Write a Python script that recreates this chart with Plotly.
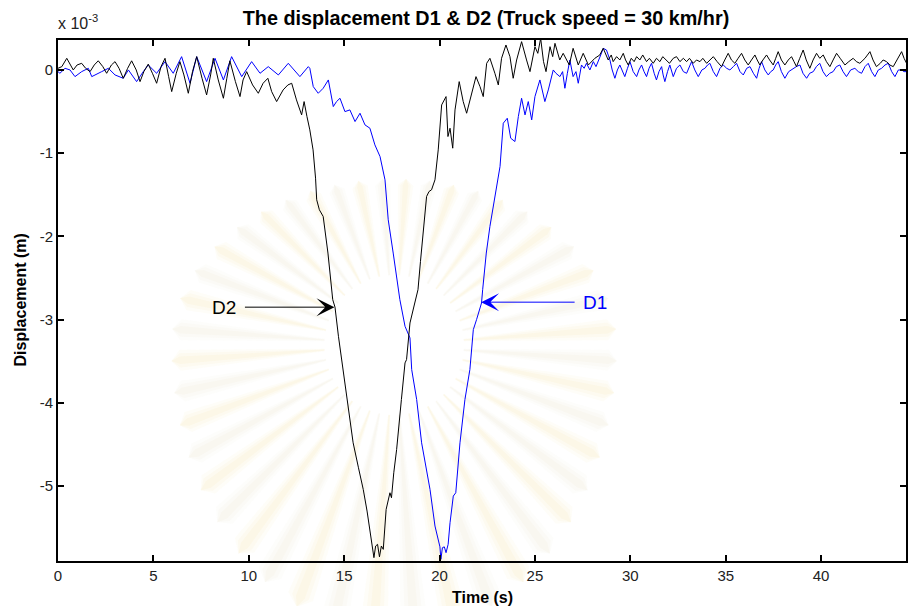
import math
import plotly.graph_objects as go

# Displacement records for the two gauges (values in units of 1e-3 m)
time_d1 = [
    0.0, 0.1, 0.37, 0.63, 0.89, 1.24, 1.59, 1.77, 2.29, 2.64, 2.99, 3.42, 3.69, 4.12,
    4.47, 4.73, 5.17, 5.61, 6.04, 6.48, 6.92, 7.27, 7.79, 8.23, 8.67, 9.1, 9.63, 10.15,
    10.59, 11.02, 11.55, 12.07, 12.68, 12.9, 13.12, 13.2, 13.38, 13.64, 13.9, 14.17,
    14.3, 14.43, 14.6, 14.78, 15.04, 15.3, 15.57, 15.83, 16.09, 16.35, 16.61, 16.88,
    17.14, 17.31, 17.57, 17.75, 17.92, 18.19, 18.35, 18.45, 18.54, 18.8, 19.06, 19.3,
    19.5, 19.76, 19.9, 20.02, 20.07, 20.15, 20.25, 20.34, 20.45, 20.55, 20.72, 20.85,
    21.07, 21.33, 21.59, 21.77, 21.94, 22.2, 22.26, 22.45, 22.64, 22.9, 22.99, 23.17,
    23.34, 23.55, 23.73, 23.95, 24.13, 24.3, 24.48, 24.65, 24.83, 25.0, 25.26, 25.44,
    25.52, 25.7, 25.85, 25.96, 26.1, 26.31, 26.45, 26.57, 26.7, 26.83, 27.0, 27.15,
    27.27, 27.44, 27.58, 27.7, 27.88, 28.06, 28.2, 28.32, 28.45, 28.58, 28.75, 28.93,
    29.05, 29.19, 29.32, 29.45, 29.58, 29.71, 29.85, 29.98, 30.15, 30.33, 30.45, 30.59,
    30.72, 30.85, 30.98, 31.11, 31.25, 31.37, 31.5, 31.64, 31.72, 31.81, 31.95, 32.07,
    32.25, 32.42, 32.6, 32.78, 32.95, 33.08, 33.21, 33.38, 33.56, 33.75, 33.91, 34.05,
    34.17, 34.35, 34.52, 34.7, 34.87, 35.05, 35.22, 35.4, 35.57, 35.75, 35.92, 36.1,
    36.27, 36.45, 36.62, 36.75, 36.88, 37.05, 37.23, 37.36, 37.49, 37.62, 37.75, 37.92,
    38.1, 38.3, 38.54, 38.7, 38.89, 39.05, 39.24, 39.4, 39.59, 39.75, 39.93, 40.1,
    40.28, 40.45, 40.63, 40.8, 40.98, 41.15, 41.33, 41.55, 41.77, 41.95, 42.12, 42.3,
    42.47, 42.65, 42.82, 43.0, 43.17, 43.35, 43.52, 43.7, 43.87, 44.05, 44.22, 44.35,
    44.48,
]
disp_d1 = [
    -0.02, -0.04, 0.02, 0.0, -0.08, -0.02, 0.02, -0.08, -0.02, 0.02, -0.06, -0.10, 0.0, -0.14,
    -0.02, 0.06, -0.04, 0.10, -0.04, 0.16, -0.16, 0.16, -0.14, 0.14, -0.12, 0.16, -0.08, 0.10,
    -0.04, 0.04, -0.06, 0.08, -0.08, -0.02, 0.04, 0.02, -0.20, -0.28, -0.22, -0.12,
    -0.30, -0.44, -0.38, -0.34, -0.50, -0.48, -0.62, -0.52, -0.66, -0.70, -0.90, -1.04,
    -1.32, -1.80, -2.20, -2.50, -2.76, -3.08, -3.18, -3.22, -3.60, -3.96, -4.48, -4.80,
    -5.04, -5.48, -5.60, -5.73, -5.88, -5.74, -5.73, -5.80, -5.70, -5.44, -5.12, -5.08,
    -4.48, -3.96, -3.60, -3.12, -3.00, -2.80, -2.64, -2.20, -1.88, -1.52, -1.40, -1.16,
    -0.64, -0.58, -0.82, -0.86, -0.56, -0.34, -0.54, -0.38, -0.60, -0.32, -0.12, -0.30,
    -0.38, -0.24, -0.10, 0.0, -0.04, -0.08, -0.02, -0.22, -0.04, 0.12, -0.08, -0.02,
    -0.16, 0.06, 0.02, 0.08, 0.0, 0.10, 0.04, 0.12, 0.18, 0.26, 0.24, 0.12,
    0.0, -0.10, 0.0, 0.06, -0.02, -0.08, 0.02, 0.10, -0.02, -0.08, 0.0, 0.06,
    -0.02, -0.08, 0.02, 0.08, -0.04, -0.12, -0.02, 0.04, -0.06, -0.14, -0.02, 0.06,
    -0.08, 0.02, 0.06, -0.02, -0.04, 0.04, 0.10, 0.0, -0.08, 0.0, 0.02, 0.06,
    0.08, -0.02, -0.08, 0.02, 0.06, 0.02, 0.0, 0.04, 0.08, -0.02, -0.06, 0.02,
    0.04, -0.04, -0.10, 0.02, 0.10, 0.0, -0.06, -0.02, 0.0, 0.06, 0.10, -0.02,
    -0.10, -0.02, 0.02, 0.04, 0.06, -0.04, -0.10, -0.04, -0.02, 0.04, 0.08, -0.02,
    -0.08, -0.04, -0.02, 0.04, 0.06, -0.02, -0.08, 0.0, 0.02, -0.02, -0.04, 0.04,
    0.08, -0.02, -0.08, 0.0, 0.02, 0.06, 0.08, -0.02, -0.08, 0.0, 0.0, -0.02,
    -0.02,
]

time_d2 = [
    0.0, 0.2, 0.46, 0.8, 1.0, 1.24, 1.45, 1.68, 1.9, 2.11, 2.35, 2.55, 2.8, 2.99, 3.2,
    3.42, 3.65, 3.86, 4.1, 4.3, 4.5, 4.73, 4.95, 5.17, 5.4, 5.61, 5.8, 5.96, 6.2, 6.39,
    6.6, 6.83, 7.05, 7.27, 7.55, 7.79, 8.0, 8.14, 8.4, 8.67, 8.85, 9.01, 9.3, 9.54, 9.7,
    9.89, 10.2, 10.5, 10.75, 11.0, 11.2, 11.46, 11.8, 12.05, 12.25, 12.5, 12.77, 12.9,
    13.05, 13.2, 13.37, 13.5, 13.56, 13.7, 13.9, 14.0, 14.15, 14.4, 14.52, 14.7, 14.95,
    15.2, 15.47, 15.75, 16.0, 16.2, 16.35, 16.5, 16.56, 16.65, 16.75, 16.85, 16.95,
    17.05, 17.2, 17.4, 17.48, 17.6, 17.75, 18.0, 18.19, 18.27, 18.45, 18.7, 18.87, 19.0,
    19.15, 19.32, 19.45, 19.58, 19.76, 19.93, 20.11, 20.22, 20.34, 20.44, 20.55, 20.69,
    20.81, 21.03, 21.15, 21.24, 21.42, 21.55, 21.68, 21.91, 22.12, 22.29, 22.47, 22.64,
    22.9, 23.08, 23.25, 23.48, 23.69, 23.86, 24.04, 24.3, 24.56, 24.74, 25.0, 25.15,
    25.3, 25.45, 25.58, 25.79, 25.93, 26.05, 26.3, 26.48, 26.8, 27.0, 27.27, 27.53,
    27.8, 28.14, 28.4, 28.58, 28.84, 29.0, 29.1, 29.28, 29.45, 29.63, 29.75, 29.89,
    30.05, 30.2, 30.33, 30.5, 30.65, 30.85, 31.0, 31.2, 31.37, 31.55, 31.7, 31.9, 32.05,
    32.25, 32.42, 32.6, 32.78, 32.95, 33.1, 33.3, 33.47, 33.65, 33.8, 34.0, 34.15, 34.35,
    34.55, 34.78, 34.95, 35.13, 35.3, 35.48, 35.65, 35.83, 36.0, 36.18, 36.35, 36.53,
    36.65, 36.79, 36.95, 37.14, 37.3, 37.49, 37.62, 37.75, 37.92, 38.1, 38.28, 38.45,
    38.58, 38.71, 38.88, 39.06, 39.22, 39.41, 39.58, 39.76, 39.93, 40.11, 40.28, 40.46,
    40.63, 40.81, 41.0, 41.25, 41.45, 41.68, 41.85, 42.03, 42.3, 42.56, 42.72, 42.9,
    43.1, 43.25, 43.43, 43.6, 43.78, 44.0, 44.22, 44.35, 44.48,
]
disp_d2 = [
    0.02, 0.04, 0.14, 0.0, 0.06, 0.08, 0.02, -0.02, 0.06, 0.11, 0.04, -0.04, 0.06, 0.10, 0.02,
    -0.10, 0.02, 0.11, 0.0, -0.14, -0.02, 0.07, -0.04, -0.16, 0.04, 0.14, -0.08, -0.26, -0.04, 0.10,
    -0.06, -0.28, -0.02, 0.16, -0.10, -0.30, -0.06, 0.14, -0.12, -0.34, -0.10, 0.11, -0.14, -0.32, -0.12,
    -0.02, -0.18, -0.28, -0.16, -0.10, -0.26, -0.38, -0.24, -0.18, -0.16, -0.36, -0.54, -0.38,
    -0.56, -0.72, -0.96, -1.30, -1.56, -1.68, -1.76, -1.95, -2.20, -2.76, -2.85, -3.20, -3.60,
    -4.02, -4.48, -4.78, -5.04, -5.30, -5.52, -5.75, -5.86, -5.72, -5.70, -5.85, -5.72,
    -5.76, -5.28, -5.08, -5.14, -4.84, -4.56, -3.96, -3.52, -3.48, -3.04, -2.80, -2.64, -2.30,
    -1.90, -1.52, -1.46, -1.44, -1.32, -0.96, -0.42, -0.38, -0.32, -0.80, -0.70, -0.94,
    -0.48, -0.14, -0.30, -0.38, -0.52, -0.40, -0.28, -0.08, -0.20, -0.32, 0.08, 0.14,
    -0.04, -0.18, 0.14, 0.30, 0.16, -0.10, 0.12, 0.34, 0.12, -0.02, 0.28, 0.20,
    0.38, 0.10, -0.02, 0.28, 0.16, 0.32, 0.12, 0.20, 0.06, 0.26, 0.06, 0.20,
    0.06, 0.14, 0.18, 0.26, 0.12, 0.18, 0.10, 0.16, 0.12, 0.20, 0.12, 0.06,
    0.14, 0.10, 0.16, 0.12, 0.18, 0.10, 0.14, 0.08, 0.14, 0.10, 0.16, 0.12, 0.08,
    0.14, 0.16, 0.10, 0.14, 0.10, 0.14, 0.08, 0.12, 0.10, 0.14, 0.08, 0.12, 0.16,
    0.10, 0.04, 0.12, 0.20, 0.12, 0.08, 0.14, 0.20, 0.12, 0.06, 0.12, 0.18,
    0.12, 0.06, 0.12, 0.18, 0.12, 0.06, 0.14, 0.22, 0.12, 0.06, 0.12, 0.16,
    0.10, 0.04, 0.14, 0.24, 0.12, 0.02, 0.12, 0.20, 0.14, 0.18, 0.10, 0.04,
    0.12, 0.20, 0.14, 0.06, 0.10, 0.14, 0.10, 0.08, 0.14, 0.22, 0.12, 0.04,
    0.08, 0.12, 0.10, 0.06, 0.04, 0.14, 0.22, 0.14, 0.08,
]

x_ticks = [0, 5, 10, 15, 20, 25, 30, 35, 40]
y_ticks = [-5, -4, -3, -2, -1, 0]

FONT = "Liberation Sans, Arial, sans-serif"
W, H = 908, 606
M_L, M_R, M_T, M_B = 58, 0, 40, 45
PW, PH = W - M_L - M_R, H - M_T - M_B
X_RANGE = [0, 44.45]


def to_paper(px, py):
    """Pixel position on the page -> paper coordinates of the plot area."""
    return (px - M_L) / PW, (H - M_B - py) / PH


fig = go.Figure()

# faint, soft sunburst emblem printed behind the plot
burst_cx, burst_cy = 395, 345
shapes = []
n_rays = 44
for k in range(n_rays):
    ang = 2 * math.pi * (k + 0.5) / n_rays
    up = math.sin(ang) > 0
    ry = 160 if up else 280
    rx = 215
    r_out = 1.0 / math.sqrt((math.cos(ang) / rx) ** 2 + (math.sin(ang) / ry) ** 2)
    base = (238, 212, 120) if k % 2 == 0 else (222, 208, 170)
    # three stacked wedges of growing width give the ray a soft edge
    for spread, alpha in ((2.8, 0.05), (1.9, 0.06), (1.0, 0.07)):
        half_out = math.radians(spread)
        half_in = math.radians(spread * 0.35)
        r_in = 70
        pts = []
        for r, a in ((r_in, ang - half_in), (r_out, ang - half_out),
                     (r_out * 1.04, ang), (r_out, ang + half_out), (r_in, ang + half_in)):
            pts.append(to_paper(burst_cx + r * math.cos(a), burst_cy - r * math.sin(a)))
        path = "M " + " L ".join(f"{x:.4f},{y:.4f}" for x, y in pts) + " Z"
        shapes.append(dict(type="path", path=path, xref="paper", yref="paper",
                           fillcolor=f"rgba({base[0]},{base[1]},{base[2]},{alpha})",
                           line=dict(width=0), layer="below"))

fig.add_trace(go.Scatter(x=time_d1, y=disp_d1, mode="lines", name="D1",
                         line=dict(color="#0000FF", width=1)))
fig.add_trace(go.Scatter(x=time_d2, y=disp_d2, mode="lines", name="D2",
                         line=dict(color="#000000", width=1)))

axis_common = dict(
    showgrid=False, zeroline=False, showline=True, linecolor="black", linewidth=2,
    ticks="inside", ticklen=6, tickwidth=1.5, tickcolor="black", mirror="ticks",
    tickfont=dict(family=FONT, size=15, color="#222"),
)

fig.update_layout(
    width=W, height=H,
    margin=dict(l=M_L, r=M_R, t=M_T, b=M_B),
    paper_bgcolor="white", plot_bgcolor="rgba(0,0,0,0)",
    showlegend=False,
    shapes=shapes,
    title=dict(text="<b>The displacement D1 & D2 (Truck speed = 30 km/hr)</b>",
               x=486 / W, xanchor="center", y=1 - 18 / H, yanchor="middle",
               font=dict(family=FONT, size=19.8, color="black")),
    xaxis=dict(range=X_RANGE, tickvals=x_ticks, ticktext=[str(v) for v in x_ticks],
               **axis_common),
    yaxis=dict(range=[-5.9, 0.36], tickvals=y_ticks, ticktext=[str(v) for v in y_ticks],
               **axis_common),
)

# axis titles
fig.add_annotation(xref="paper", yref="paper", x=0.5, y=0, yshift=-36,
                   xanchor="center", yanchor="middle", showarrow=False,
                   text="<b>Time (s)</b>", font=dict(family=FONT, size=16, color="black"))
fig.add_annotation(xref="paper", yref="paper", x=0, y=0.5, xshift=-38,
                   xanchor="center", yanchor="middle", showarrow=False, textangle=-90,
                   text="<b>Displacement (m)</b>", font=dict(family=FONT, size=16, color="black"))

# exponent label above the y axis
fig.add_annotation(xref="paper", yref="paper", x=0.0, y=1.0, xshift=-2, yshift=6,
                   xanchor="left", yanchor="bottom", showarrow=False,
                   text="x 10<sup>-3</sup>",
                   font=dict(family=FONT, size=16, color="#222"))

# curve labels with pointer arrows
fig.add_annotation(x=14.49, y=-2.85, text="D2", showarrow=True, ax=-110, ay=0,
                   borderpad=8, arrowhead=3, arrowsize=3.0, arrowwidth=1,
                   arrowcolor="black", font=dict(family=FONT, size=19, color="black"))
fig.add_annotation(x=22.18, y=-2.79, text="D1", showarrow=True, ax=114, ay=0,
                   borderpad=8, arrowhead=3, arrowsize=3.0, arrowwidth=1,
                   arrowcolor="#0000FF", font=dict(family=FONT, size=19, color="#0000FF"))

fig.write_html("out.html")
